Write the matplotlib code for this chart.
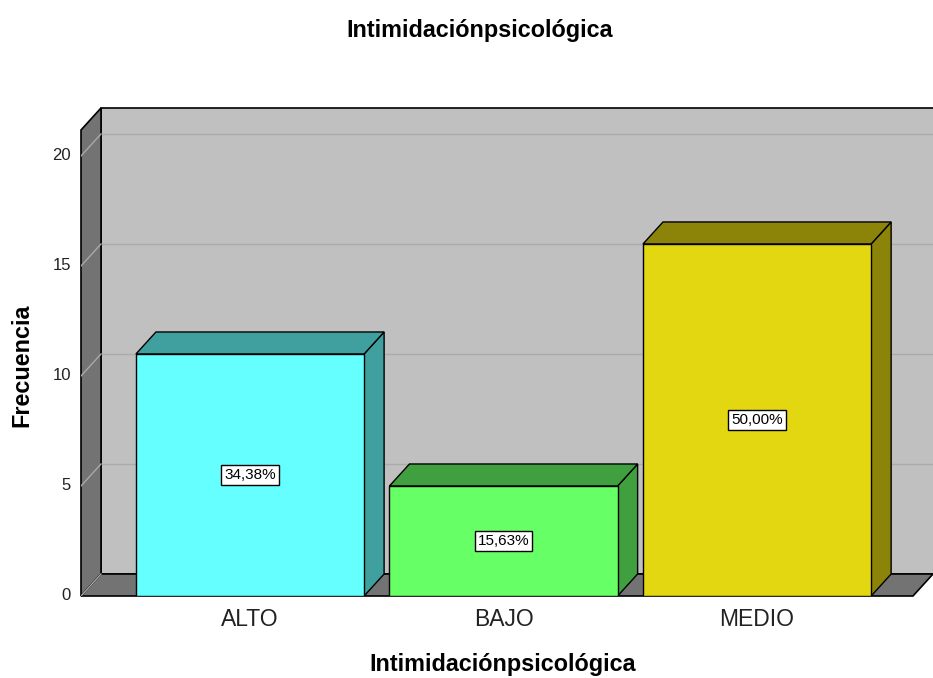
import matplotlib.pyplot as plt
from matplotlib.patches import Polygon, Rectangle

plt.rcParams['font.family'] = ['Liberation Sans', 'DejaVu Sans']

categories = ['ALTO', 'BAJO', 'MEDIO']
counts = [11, 5, 16]
percent_labels = ['34,38%', '15,63%', '50,00%']
front_colors = ['#66FFFF', '#66FF66', '#E3D711']
side_colors = ['#40A0A0', '#40A040', '#8C8408']
yticks = [0, 5, 10, 15, 20]

W, H = 933, 678
fig = plt.figure(figsize=(W / 100, H / 100), dpi=100)
ax = fig.add_axes([81 / W, (H - 596) / H, (933 - 81) / W, (596 - 108) / H])
x0, x1 = -0.6667, 2.694
ytop = 22.18
ax.set_xlim(x0, x1)
ax.set_ylim(0, ytop)
ax.axis('off')

dx = 20 / 253.5   # depth offset in x (data units)
dy = 1.0          # depth offset in y (data units)
xr = x1 - dx      # right end of front plane
wall_h = ytop - dy

# back wall
ax.add_patch(Rectangle((x0 + dx, dy), x1 - x0 - dx + 0.05, wall_h, facecolor='#C0C0C0',
                       edgecolor='black', lw=1.2, clip_on=False, zorder=1))
# left wall
ax.add_patch(Polygon([(x0, 0), (x0, wall_h), (x0 + dx, ytop), (x0 + dx, dy)],
                     closed=True, facecolor='#737373', edgecolor='black', lw=1.2,
                     clip_on=False, zorder=2))
# floor
ax.add_patch(Polygon([(x0, 0), (xr, 0), (x1, dy), (x0 + dx, dy)], closed=True,
                     facecolor='#737373', edgecolor='black', lw=1.2, clip_on=False, zorder=2))

# gridlines
for t in yticks[1:]:
    ax.plot([x0 + dx, x1], [t + dy, t + dy], color='#ABABAB', lw=1, zorder=1.5)
    ax.plot([x0, x0 + dx], [t, t + dy], color='#A9A9A9', lw=1, zorder=2.5)
ax.plot([x0, x0 + dx], [0, dy], color='#A9A9A9', lw=1, zorder=2.5)

for t in yticks:
    ax.text(x0 - 0.04, t, str(t), ha='right', va='center', fontsize=12, color='#222222')

bw = 0.9
for i, (v, fc, sc, lab) in enumerate(zip(counts, front_colors, side_colors, percent_labels)):
    l, r = i - bw / 2, i + bw / 2
    ax.add_patch(Polygon([(r, 0), (r + dx, dy), (r + dx, v + dy), (r, v)], closed=True,
                         facecolor=sc, edgecolor='black', lw=1, zorder=3))
    ax.add_patch(Polygon([(l, v), (r, v), (r + dx, v + dy), (l + dx, v + dy)], closed=True,
                         facecolor=sc, edgecolor='black', lw=1, zorder=3))
    ax.add_patch(Rectangle((l, 0), bw, v, facecolor=fc, edgecolor='black', lw=1, zorder=4))
    ax.text(i, v / 2, lab, ha='center', va='center', fontsize=11, zorder=5,
            bbox=dict(boxstyle='square,pad=0.2', facecolor='white', edgecolor='black', lw=1))
    ax.text(i, -1.05, categories[i], ha='center', va='center', fontsize=16.5, color='#222222')

fig.text(480 / W, 1 - 30 / H, 'Intimidaciónpsicológica', ha='center', va='center',
         fontsize=16.8, fontweight='bold')
fig.text(503 / W, 1 - 665 / H, 'Intimidaciónpsicológica', ha='center', va='center',
         fontsize=16.8, fontweight='bold')
fig.text(22 / W, 1 - 365 / H, 'Frecuencia', ha='center', va='center', rotation=90,
         fontsize=16.8, fontweight='bold')

fig.savefig('out.png', dpi=100)
